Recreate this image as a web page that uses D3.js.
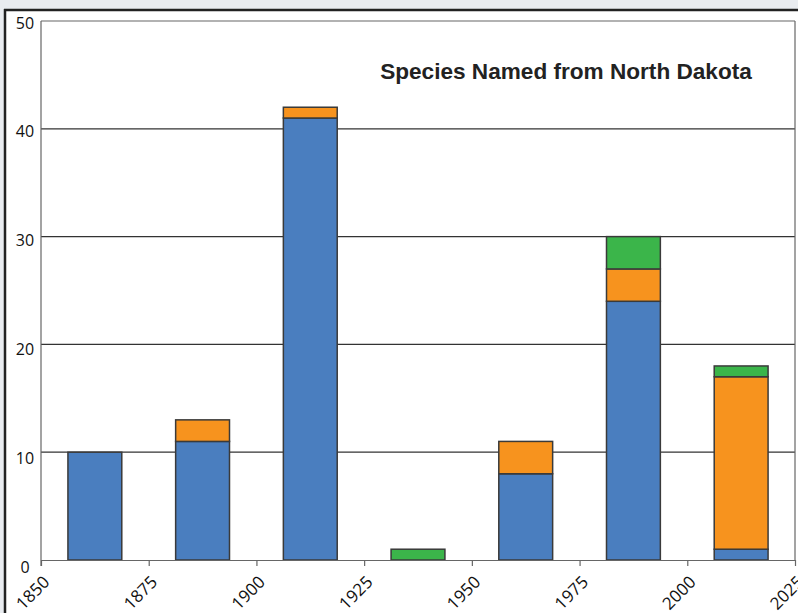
<!DOCTYPE html>
<html>
<head>
<meta charset="utf-8">
<script src="https://cdn.jsdelivr.net/npm/d3@7/dist/d3.min.js"></script>
<style>
  html, body { margin: 0; padding: 0; background: #e9ecf0; }
  svg { display: block; }
</style>
</head>
<body>
<div id="chart"></div>
<script>
// 25-year periods (start year of each period)
const periods = [1850, 1875, 1900, 1925, 1950, 1975, 2000];
// species counts per period, stacked bottom to top
const blueValues   = [10, 11, 41, 0, 8, 24, 1];
const orangeValues = [0, 2, 1, 0, 3, 3, 16];
const greenValues  = [0, 0, 0, 1, 0, 3, 1];
const xTicks = [1850, 1875, 1900, 1925, 1950, 1975, 2000, 2025];
const yTicks = [0, 10, 20, 30, 40, 50];
const seriesNames = ["blue", "orange", "green"];
const seriesColors = ["#4a7ebf", "#f7931e", "#3bb54a"];
const title = "Species Named from North Dakota";

const W = 798, H = 613;
const svg = d3.select("#chart").append("svg").attr("width", W).attr("height", H);

// white panel with dark frame on top and left
svg.append("rect").attr("x", 0).attr("y", 0).attr("width", W).attr("height", H).attr("fill", "#e9ecf0");
svg.append("rect").attr("x", 5).attr("y", 10).attr("width", W - 5).attr("height", H - 10).attr("fill", "#fff");
svg.append("line").attr("x1", 4).attr("x2", W).attr("y1", 10).attr("y2", 10).attr("stroke", "#222").attr("stroke-width", 2.5);
svg.append("line").attr("x1", 5).attr("x2", 5).attr("y1", 9).attr("y2", H).attr("stroke", "#222").attr("stroke-width", 2.5);

const plotL = 41, plotR = 795, plotT = 21, plotB = 560;
const x = d3.scaleLinear().domain([1850, 2025]).range([plotL, plotR]);
const y = d3.scaleLinear().domain([0, 50]).range([plotB, plotT]);

// horizontal gridlines
svg.append("g").selectAll("line").data(yTicks.filter(v => v > 0)).join("line")
  .attr("x1", plotL).attr("x2", plotR)
  .attr("y1", d => y(d)).attr("y2", d => y(d))
  .attr("stroke", d => d === 50 ? "#666" : "#333").attr("stroke-width", 1.2);

// right border
svg.append("line").attr("x1", plotR).attr("x2", plotR).attr("y1", plotT).attr("y2", plotB)
  .attr("stroke", "#666").attr("stroke-width", 1.2);

// stacked bars
const table = periods.map((p, i) => ({ period: p, blue: blueValues[i], orange: orangeValues[i], green: greenValues[i] }));
const stack = d3.stack().keys(seriesNames)(table);
const barW = 12.5;
stack.forEach((layer, k) => {
  svg.append("g").selectAll("rect").data(layer.filter(d => d[1] > d[0])).join("rect")
    .attr("x", d => x(d.data.period + 12.5 - barW / 2))
    .attr("width", d => x(d.data.period + 12.5 + barW / 2) - x(d.data.period + 12.5 - barW / 2))
    .attr("y", d => y(d[1]))
    .attr("height", d => y(d[0]) - y(d[1]))
    .attr("fill", seriesColors[k])
    .attr("stroke", "#3a3a3a").attr("stroke-width", 1.5);
});

// axes
const xAxis = svg.append("g").attr("transform", `translate(0,${plotB})`)
  .call(d3.axisBottom(x).tickValues(xTicks).tickFormat(d3.format("d")).tickSize(6).tickSizeOuter(0));
xAxis.select(".domain").attr("stroke", "#666").attr("stroke-width", 1.2);
xAxis.selectAll(".tick line").attr("stroke", "#666").attr("stroke-width", 1.2);
xAxis.selectAll(".tick text")
  .attr("font-family", "'Open Sans', 'Noto Sans', sans-serif").attr("font-size", 17).attr("fill", "#111")
  .attr("text-anchor", "end").attr("dy", "0.35em")
  .attr("transform", "translate(5,19) rotate(-45)").attr("y", 0).attr("x", 0);

svg.append("line").attr("x1", plotL).attr("x2", plotL).attr("y1", plotT).attr("y2", plotB + 6)
  .attr("stroke", "#666").attr("stroke-width", 1.2);

// y tick labels
svg.append("g").selectAll("text").data(yTicks).join("text")
  .attr("x", 25).attr("y", d => y(d) + 2 + (50 - d) * 0.1)
  .attr("text-anchor", "middle").attr("dy", "0.35em")
  .attr("font-family", "'Open Sans', 'Noto Sans', sans-serif").attr("font-size", 16).attr("fill", "#111")
  .text(d => d);

// title
svg.append("text").attr("x", 566).attr("y", 79).attr("text-anchor", "middle")
  .attr("font-family", "'Liberation Sans', Arial, sans-serif").attr("font-weight", "bold")
  .attr("font-size", 22.6).attr("fill", "#222").text(title);
</script>
</body>
</html>
